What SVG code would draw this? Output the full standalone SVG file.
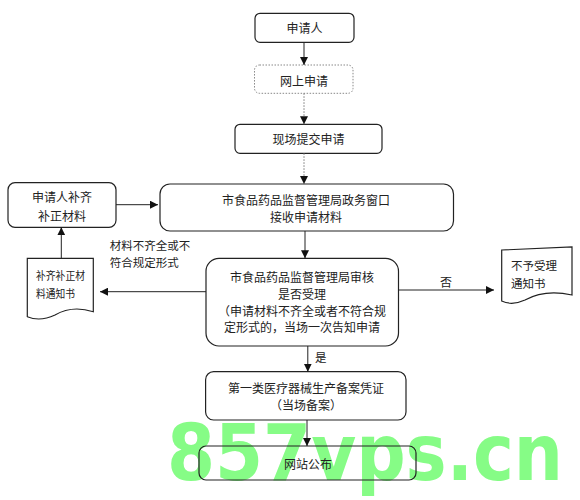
<svg xmlns="http://www.w3.org/2000/svg" width="580" height="500" viewBox="0 0 580 500">
<style>
.box{fill:#fff;stroke:#222;stroke-width:1.2}
.dot{fill:#fff;stroke:#888;stroke-width:1;stroke-dasharray:1.5 1.5}
.t{font-family:'Noto Sans CJK SC','Noto Sans CJK TC',sans-serif;font-size:12px;fill:#222;text-anchor:middle;dominant-baseline:central}
.tl{font-family:'Noto Sans CJK SC','Noto Sans CJK TC',sans-serif;font-size:11.5px;fill:#222;dominant-baseline:central}
.ln{stroke:#222;stroke-width:1;fill:none}
.lg{stroke:#777;stroke-width:1;stroke-dasharray:1.5 1.5;fill:none}
</style>
<defs>
<marker id="ah" markerUnits="userSpaceOnUse" markerWidth="8" markerHeight="8" refX="8" refY="4" orient="auto">
<path d="M0,0 L8,4 L0,8 Z" fill="#111"/>
</marker>
</defs>
<rect width="580" height="500" fill="#fff"/>
<text x="167" y="480" textLength="396" lengthAdjust="spacingAndGlyphs" font-family="'DejaVu Sans',sans-serif" font-weight="bold" font-size="78" fill="#86fc86">857vps.cn</text>
<g id="n1"><rect class="box" x="255" y="13.3" width="99" height="29" rx="5"/><text class="t" x="304.5" y="27.5">申请人</text></g>
<g id="n2"><rect class="dot" x="254.5" y="65" width="98.5" height="28.3" rx="5"/><text class="t" x="304" y="80">网上申请</text></g>
<g id="n3"><rect class="box" x="235" y="124.3" width="147" height="29" rx="5"/><text class="t" x="308.5" y="138.5">现场提交申请</text></g>
<g id="n4"><rect class="box" x="8" y="182.7" width="108" height="44.6" rx="7"/><text class="t" x="62" y="196.7">申请人补齐</text><text class="t" x="62" y="215">补正材料</text></g>
<g id="n5"><rect class="box" x="160" y="184" width="293.5" height="47" rx="10"/><text class="t" x="306" y="199.3">市食品药品监督管理局政务窗口</text><text class="t" x="306" y="216">接收申请材料</text></g>
<g id="n6"><rect class="box" x="206" y="258.3" width="192.5" height="87.7" rx="13"/><text class="t" x="302" y="276.7">市食品药品监督管理局审核</text><text class="t" x="302" y="293.3">是否受理</text><text class="t" x="302" y="310">（申请材料不齐全或者不符合规</text><text class="t" x="302" y="326.7">定形式的，当场一次告知申请</text></g>
<g id="n7"><path class="box" d="M27.3,258.3 L93.3,258.3 L93.3,311.7 Q72,305 55,315 Q40,322 27.3,316.7 Z"/><text class="tl" x="36" y="275" font-size="10.5" textLength="49" lengthAdjust="spacingAndGlyphs">补齐补正材</text><text class="tl" x="36" y="293.3" font-size="10.5" textLength="39" lengthAdjust="spacingAndGlyphs">料通知书</text></g>
<g id="n8"><path class="box" d="M501.7,250 L572,247 L572,295 Q545,289 525,300 Q512,306 501.7,301 Z"/><text class="tl" x="511" y="265">不予受理</text><text class="tl" x="511" y="283.3">通知书</text></g>
<g id="n9"><rect class="box" x="205.6" y="371.7" width="200.4" height="48.3" rx="8"/><text class="t" x="306" y="387.3">第一类医疗器械生产备案凭证</text><text class="t" x="306" y="404">（当场备案）</text></g>
<g id="n10"><rect x="199" y="446" width="217" height="34" rx="7" fill="none" stroke="#222" stroke-width="1.2"/><text class="t" x="308" y="463.3">网站公布</text></g>
<g id="edges">
<line class="ln" x1="304" y1="42.3" x2="304" y2="65" marker-end="url(#ah)"/>
<line class="lg" x1="304" y1="93.3" x2="304" y2="124.3" marker-end="url(#ah)"/>
<line class="lg" x1="304" y1="153.3" x2="304" y2="184" marker-end="url(#ah)"/>
<line class="ln" x1="116" y1="204.7" x2="158" y2="204.7" marker-end="url(#ah)"/>
<line class="ln" x1="305" y1="231" x2="305" y2="258.3" marker-end="url(#ah)"/>
<line class="ln" x1="206" y1="291.7" x2="100" y2="291.7" marker-end="url(#ah)"/>
<line class="ln" x1="61.3" y1="258.3" x2="61.3" y2="227.3" marker-end="url(#ah)"/>
<line class="ln" x1="398.5" y1="290" x2="494" y2="290" marker-end="url(#ah)"/>
<line class="ln" x1="307.8" y1="346" x2="307.8" y2="371.7" marker-end="url(#ah)"/>
<line class="ln" x1="307" y1="420" x2="307" y2="446" marker-end="url(#ah)"/>
<text class="tl" x="109.7" y="245">材料不齐全或不</text>
<text class="tl" x="109.7" y="261.7">符合规定形式</text>
<text class="t" x="446" y="281">否</text>
<text class="tl" x="315" y="356.7">是</text>
</g>
</svg>
